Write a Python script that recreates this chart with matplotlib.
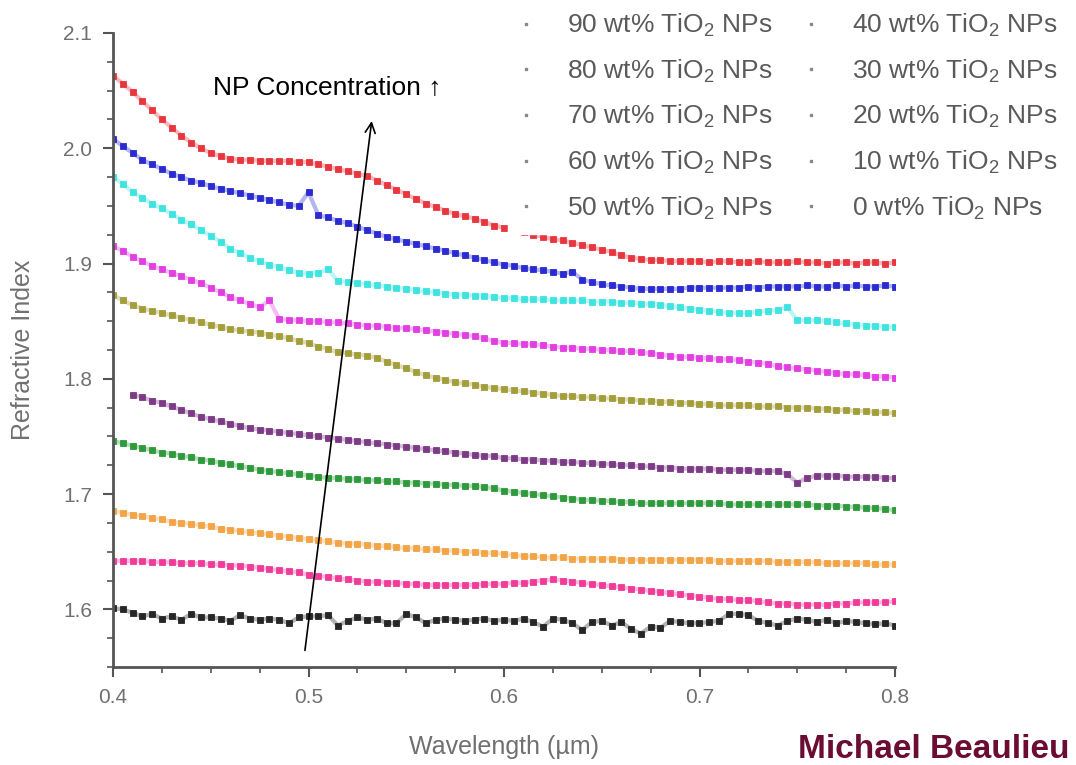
import numpy as np
import matplotlib
matplotlib.use("Agg")
import matplotlib.pyplot as plt
from matplotlib.lines import Line2D
from matplotlib.ticker import MultipleLocator, FormatStrFormatter

plt.rcParams['font.family'] = ['Liberation Sans', 'DejaVu Sans']
plt.rcParams['mathtext.default'] = 'regular'

# wavelength grid (um), one point every 5 nm
wavelength = np.round(np.arange(0.400, 0.8001, 0.005), 3)

n90 = [2.063, 2.056, 2.049, 2.041, 2.033, 2.025, 2.018, 2.011, 2.005, 2.000,
       1.996, 1.993, 1.991, 1.990, 1.990, 1.989, 1.989, 1.989, 1.989, 1.988,
       1.988, 1.986, 1.984, 1.982, 1.980, 1.978, 1.976, 1.972, 1.968, 1.964,
       1.960, 1.956, 1.952, 1.949, 1.946, 1.943, 1.941, 1.939, 1.936, 1.933,
       1.931, 1.929, 1.927, 1.925, 1.923, 1.921, 1.920, 1.918, 1.916, 1.914,
       1.912, 1.910, 1.907, 1.905, 1.904, 1.903, 1.903, 1.902, 1.902, 1.902,
       1.902, 1.901, 1.902, 1.902, 1.901, 1.901, 1.902, 1.901, 1.901, 1.901,
       1.902, 1.901, 1.901, 1.900, 1.901, 1.901, 1.900, 1.901, 1.901, 1.900,
       1.901]
n80 = [2.008, 2.002, 1.996, 1.990, 1.986, 1.982, 1.978, 1.975, 1.972, 1.970,
       1.967, 1.965, 1.963, 1.961, 1.959, 1.957, 1.955, 1.953, 1.951, 1.950,
       1.962, 1.942, 1.940, 1.937, 1.935, 1.932, 1.929, 1.926, 1.923, 1.921,
       1.919, 1.917, 1.915, 1.913, 1.911, 1.909, 1.907, 1.905, 1.903, 1.901,
       1.899, 1.898, 1.896, 1.895, 1.894, 1.893, 1.891, 1.893, 1.886, 1.884,
       1.882, 1.881, 1.880, 1.879, 1.878, 1.878, 1.878, 1.878, 1.878, 1.879,
       1.879, 1.879, 1.879, 1.879, 1.879, 1.880, 1.879, 1.880, 1.880, 1.880,
       1.880, 1.881, 1.880, 1.880, 1.881, 1.880, 1.881, 1.880, 1.880, 1.881,
       1.880]
n70 = [1.975, 1.969, 1.962, 1.957, 1.952, 1.948, 1.943, 1.938, 1.934, 1.929,
       1.924, 1.919, 1.913, 1.909, 1.905, 1.902, 1.899, 1.897, 1.894, 1.892,
       1.891, 1.892, 1.895, 1.885, 1.884, 1.883, 1.882, 1.881, 1.880, 1.879,
       1.878, 1.877, 1.876, 1.875, 1.874, 1.873, 1.873, 1.872, 1.872, 1.871,
       1.870, 1.870, 1.869, 1.869, 1.869, 1.868, 1.868, 1.868, 1.868, 1.867,
       1.867, 1.867, 1.866, 1.866, 1.865, 1.865, 1.864, 1.863, 1.862, 1.861,
       1.860, 1.859, 1.858, 1.857, 1.857, 1.857, 1.858, 1.859, 1.860, 1.862,
       1.851, 1.851, 1.851, 1.850, 1.849, 1.848, 1.847, 1.846, 1.846, 1.845,
       1.845]
n60 = [1.915, 1.911, 1.906, 1.902, 1.898, 1.895, 1.892, 1.889, 1.886, 1.883,
       1.879, 1.875, 1.871, 1.868, 1.865, 1.862, 1.868, 1.852, 1.851, 1.851,
       1.850, 1.850, 1.849, 1.849, 1.848, 1.847, 1.846, 1.846, 1.845, 1.844,
       1.844, 1.843, 1.842, 1.841, 1.840, 1.839, 1.838, 1.837, 1.835, 1.833,
       1.831, 1.831, 1.830, 1.830, 1.829, 1.828, 1.827, 1.827, 1.826, 1.826,
       1.825, 1.825, 1.824, 1.824, 1.823, 1.822, 1.821, 1.820, 1.819, 1.819,
       1.818, 1.818, 1.817, 1.817, 1.816, 1.815, 1.814, 1.813, 1.811, 1.810,
       1.809, 1.808, 1.807, 1.806, 1.805, 1.804, 1.804, 1.803, 1.802, 1.802,
       1.801]
n50 = [1.873, 1.868, 1.864, 1.861, 1.859, 1.857, 1.855, 1.853, 1.851, 1.849,
       1.847, 1.845, 1.843, 1.842, 1.841, 1.840, 1.838, 1.837, 1.835, 1.833,
       1.831, 1.828, 1.826, 1.823, 1.822, 1.821, 1.820, 1.818, 1.815, 1.812,
       1.809, 1.806, 1.803, 1.801, 1.799, 1.797, 1.796, 1.795, 1.793, 1.792,
       1.791, 1.790, 1.789, 1.788, 1.787, 1.786, 1.785, 1.785, 1.784, 1.784,
       1.783, 1.783, 1.782, 1.782, 1.781, 1.781, 1.780, 1.780, 1.779, 1.779,
       1.778, 1.778, 1.777, 1.777, 1.777, 1.777, 1.776, 1.776, 1.776, 1.775,
       1.775, 1.775, 1.774, 1.774, 1.773, 1.773, 1.772, 1.772, 1.771, 1.771,
       1.770]
n40 = [np.nan, np.nan, 1.786, 1.784, 1.781, 1.779, 1.776, 1.773, 1.770, 1.767,
       1.765, 1.763, 1.761, 1.759, 1.757, 1.756, 1.755, 1.754, 1.753, 1.752,
       1.751, 1.750, 1.749, 1.748, 1.747, 1.746, 1.745, 1.744, 1.743, 1.742,
       1.741, 1.740, 1.739, 1.738, 1.737, 1.736, 1.735, 1.734, 1.733, 1.733,
       1.731, 1.731, 1.730, 1.730, 1.729, 1.729, 1.728, 1.728, 1.727, 1.727,
       1.726, 1.726, 1.725, 1.725, 1.724, 1.724, 1.723, 1.723, 1.722, 1.722,
       1.722, 1.722, 1.721, 1.721, 1.721, 1.721, 1.720, 1.720, 1.720, 1.717,
       1.710, 1.714, 1.716, 1.716, 1.716, 1.715, 1.715, 1.715, 1.715, 1.714,
       1.714]
n30 = [1.746, 1.744, 1.742, 1.740, 1.738, 1.736, 1.735, 1.733, 1.732, 1.730,
       1.729, 1.727, 1.726, 1.724, 1.723, 1.721, 1.720, 1.719, 1.718, 1.717,
       1.716, 1.715, 1.714, 1.714, 1.713, 1.713, 1.712, 1.712, 1.711, 1.711,
       1.710, 1.710, 1.709, 1.709, 1.708, 1.708, 1.707, 1.707, 1.706, 1.705,
       1.703, 1.702, 1.701, 1.700, 1.699, 1.698, 1.697, 1.696, 1.695, 1.695,
       1.694, 1.694, 1.693, 1.693, 1.692, 1.692, 1.692, 1.692, 1.692, 1.692,
       1.692, 1.692, 1.692, 1.691, 1.691, 1.691, 1.691, 1.691, 1.691, 1.691,
       1.691, 1.691, 1.690, 1.690, 1.690, 1.689, 1.689, 1.688, 1.688, 1.687,
       1.686]
n20 = [1.685, 1.684, 1.682, 1.681, 1.679, 1.678, 1.676, 1.675, 1.674, 1.673,
       1.672, 1.670, 1.669, 1.668, 1.667, 1.666, 1.665, 1.664, 1.663, 1.662,
       1.661, 1.660, 1.659, 1.658, 1.657, 1.657, 1.656, 1.655, 1.655, 1.654,
       1.653, 1.653, 1.652, 1.652, 1.651, 1.651, 1.650, 1.650, 1.649, 1.649,
       1.648, 1.647, 1.646, 1.646, 1.645, 1.645, 1.645, 1.644, 1.644, 1.644,
       1.644, 1.644, 1.643, 1.643, 1.643, 1.643, 1.643, 1.643, 1.643, 1.643,
       1.643, 1.643, 1.642, 1.642, 1.642, 1.642, 1.642, 1.642, 1.641, 1.641,
       1.641, 1.641, 1.641, 1.640, 1.640, 1.640, 1.640, 1.640, 1.639, 1.639,
       1.639]
n10 = [1.642, 1.642, 1.642, 1.642, 1.641, 1.641, 1.641, 1.640, 1.640, 1.640,
       1.639, 1.639, 1.638, 1.638, 1.637, 1.636, 1.635, 1.634, 1.633, 1.632,
       1.630, 1.629, 1.628, 1.627, 1.626, 1.625, 1.624, 1.624, 1.623, 1.623,
       1.622, 1.622, 1.621, 1.621, 1.621, 1.621, 1.621, 1.621, 1.622, 1.622,
       1.622, 1.623, 1.623, 1.624, 1.625, 1.626, 1.625, 1.624, 1.623, 1.622,
       1.621, 1.620, 1.619, 1.618, 1.617, 1.616, 1.615, 1.614, 1.613, 1.612,
       1.611, 1.610, 1.609, 1.609, 1.608, 1.608, 1.607, 1.606, 1.605, 1.605,
       1.604, 1.604, 1.604, 1.604, 1.605, 1.605, 1.606, 1.606, 1.606, 1.606,
       1.607]
n0 = [1.601, 1.600, 1.597, 1.594, 1.596, 1.592, 1.594, 1.591, 1.596, 1.593,
      1.593, 1.592, 1.590, 1.595, 1.592, 1.591, 1.592, 1.591, 1.588, 1.593,
      1.594, 1.594, 1.595, 1.586, 1.590, 1.593, 1.591, 1.592, 1.588, 1.588,
      1.596, 1.593, 1.588, 1.591, 1.592, 1.591, 1.590, 1.591, 1.592, 1.590,
      1.591, 1.590, 1.592, 1.589, 1.585, 1.592, 1.591, 1.588, 1.582, 1.589,
      1.590, 1.586, 1.589, 1.583, 1.579, 1.585, 1.584, 1.590, 1.589, 1.588,
      1.588, 1.589, 1.590, 1.596, 1.596, 1.595, 1.590, 1.588, 1.586, 1.590,
      1.592, 1.591, 1.589, 1.591, 1.588, 1.590, 1.589, 1.588, 1.587, 1.588,
      1.586]

series = [n90, n80, n70, n60, n50, n40, n30, n20, n10, n0]
concentrations = [90, 80, 70, 60, 50, 40, 30, 20, 10, 0]
colors = ['#e8363e', '#2b2bd2', '#3fe3e0', '#e13fe1', '#a39d3a',
          '#7d3a86', '#2e9a3c', '#f2a446', '#f03c98', '#262626']

fig = plt.figure(figsize=(10.76, 7.65), dpi=100)
ax = fig.add_axes([113/1076, 1 - 667/765, 782/1076, 634/765])

for vals, c in zip(series, colors):
    ax.plot(wavelength, vals, '-', color=c, lw=3, alpha=0.35)
    ax.plot(wavelength, vals, 's', color=c, ms=3.8, mew=0.6, mec=c)

ax.set_xlim(0.4, 0.8)
ax.set_ylim(1.55, 2.1)
ax.xaxis.set_major_locator(MultipleLocator(0.1))
ax.xaxis.set_minor_locator(MultipleLocator(0.025))
ax.yaxis.set_major_locator(MultipleLocator(0.1))
ax.yaxis.set_minor_locator(MultipleLocator(0.025))
ax.xaxis.set_major_formatter(FormatStrFormatter('%.1f'))
ax.yaxis.set_major_formatter(FormatStrFormatter('%.1f'))

for side in ['top', 'right']:
    ax.spines[side].set_visible(False)
for side in ['left', 'bottom']:
    ax.spines[side].set_color('#555555')
    ax.spines[side].set_linewidth(2)
ax.tick_params(which='major', direction='out', length=7, width=1.5,
               colors='#555555', labelcolor='#707070', labelsize=15, pad=8)
ax.tick_params(which='minor', direction='out', length=4, width=1.2,
               colors='#555555')

ax.set_xlabel('Wavelength (\u00b5m)', fontsize=18, color='#707070', labelpad=20)
ax.set_ylabel('Refractive Index', fontsize=18, color='#707070', labelpad=20)

# legend: two columns in the white box at upper right
handles = [Line2D([], [], ls='none', marker='s', ms=2, color='#888888')
           for c in colors]
labels = ['%d wt%% TiO$_2$ NPs' % p for p in concentrations]
leg = fig.legend(handles, labels, loc='upper left',
                 bbox_to_anchor=(508/1076, 1.0), ncol=2, fontsize=19,
                 frameon=True, fancybox=False, framealpha=1,
                 facecolor='white', edgecolor='white', borderaxespad=0,
                 borderpad=0.45, labelspacing=0.7, handlelength=0.5,
                 handletextpad=1.3, columnspacing=1.2)
for t in leg.get_texts():
    t.set_color('#5a5a5a')

ax.annotate('', xy=(0.5325, 2.026), xytext=(0.498, 1.562),
            arrowprops=dict(arrowstyle='->', color='black', lw=1.2,
                            mutation_scale=18),
            annotation_clip=False)
fig.text(327/1076, 1 - 88/765, 'NP Concentration \u2191', fontsize=19,
         ha='center', va='center', color='black')

fig.text(1070/1076, 1 - 750/765, 'Michael Beaulieu', fontsize=24,
         fontweight='bold', color='#6b0c33', ha='right', va='center')

plt.savefig('out.png', dpi=100)
